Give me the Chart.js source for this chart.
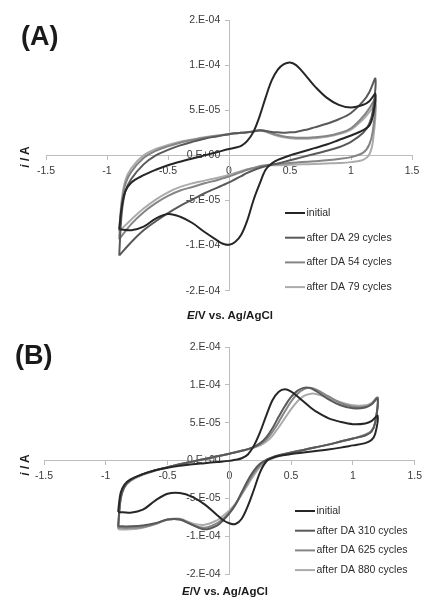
<!DOCTYPE html>
<html>
<head>
<meta charset="utf-8">
<script src="https://cdn.jsdelivr.net/npm/chart.js@4.4.1/dist/chart.umd.min.js"></script>
<style>
  html, body { margin: 0; padding: 0; background: #fff; }
  body { width: 427px; height: 600px; position: relative; overflow: hidden; font-family: "Liberation Sans", Arial, sans-serif; color: #1a1a1a; }
  canvas { position: absolute; left: 0; }
  .tag { position: absolute; font-weight: bold; font-size: 27px; line-height: 30px; }
  .xtitle { position: absolute; width: 160px; text-align: center; font-weight: bold; font-size: 11.5px; line-height: 14px; }
  .ytitle { position: absolute; width: 40px; text-align: center; font-weight: bold; font-size: 12px; line-height: 14px; transform: rotate(-90deg); }
</style>
</head>
<body>
<canvas id="cv-a" width="427" height="300" style="top:0"></canvas>
<canvas id="cv-b" width="427" height="300" style="top:300px"></canvas>

<div class="tag" style="left:21px;top:21px">(A)</div>
<div class="ytitle" style="left:5px;top:150px"><i>i</i> / A</div>
<div class="xtitle" style="left:150px;top:308px"><i>E</i>/V vs. Ag/AgCl</div>

<div class="tag" style="left:15px;top:340px">(B)</div>
<div class="ytitle" style="left:5px;top:458px"><i>i</i> / A</div>
<div class="xtitle" style="left:145px;top:584px"><i>E</i>/V vs. Ag/AgCl</div>

<script>
// potential sweep: forward -0.9 -> 1.2 V, then back to -0.9 V
const potential = [
  -0.9, -0.88, -0.85, -0.8, -0.7, -0.6, -0.5, -0.4, -0.3, -0.2, -0.1, 0,
  0.05, 0.1, 0.15, 0.2, 0.25, 0.3, 0.35, 0.4, 0.45, 0.5, 0.55, 0.6, 0.65, 0.7,
  0.8, 0.9, 1.0, 1.1, 1.15, 1.2,
  1.18, 1.15, 1.1, 1.0, 0.9, 0.8, 0.7, 0.6, 0.5, 0.4,
  0.35, 0.3, 0.25, 0.2, 0.15, 0.1, 0.05, 0, -0.05, -0.1,
  -0.2, -0.3, -0.4, -0.5, -0.6, -0.7, -0.8, -0.9,
];

// currents in units of 1E-05 A
const aInitial = [
  -8.2, -5.8, -4.0, -3.0, -2.2, -1.6, -1.1, -0.7, -0.35, 0.0, 0.35, 0.7,
  0.85, 1.05, 1.6, 2.6, 4.3, 6.4, 8.3, 9.5, 10.1, 10.3, 10.0, 9.3, 8.5, 7.7,
  6.4, 5.6, 5.3, 5.6, 6.0, 6.8,
  4.4, 3.3, 2.8, 2.2, 1.7, 1.2, 0.8, 0.4, 0.0, -0.5,
  -0.9, -1.6, -3.2, -5.0, -7.2, -8.8, -9.6, -9.9, -9.8, -9.4,
  -8.5, -7.5, -6.8, -6.5, -7.0, -7.9, -8.3, -8.2,
];
const aDA29 = [
  -11.1, -6.5, -4.0, -2.6, -1.0, 0.0, 0.6, 1.1, 1.5, 1.85, 2.1, 2.35,
  2.45, 2.5, 2.55, 2.65, 2.75, 2.7, 2.6, 2.55, 2.5, 2.55, 2.6, 2.75, 2.9, 3.1,
  3.5, 4.0, 4.7, 6.0, 7.0, 8.5,
  5.0, 3.5, 2.5, 1.5, 0.9, 0.5, 0.15, -0.2, -0.55, -0.9,
  -1.05, -1.2, -1.4, -1.65, -1.95, -2.3, -2.65, -3.0, -3.3, -3.6,
  -4.2, -4.9, -5.6, -6.4, -7.3, -8.3, -9.6, -11.1,
];
const aDA54 = [
  -9.3, -5.5, -3.2, -1.8, -0.3, 0.5, 1.0, 1.4, 1.7, 1.95, 2.15, 2.35,
  2.45, 2.5, 2.55, 2.65, 2.8, 2.7, 2.45, 2.25, 2.1, 2.0, 1.95, 1.95, 1.95, 2.0,
  2.15, 2.45, 3.0, 4.3, 5.2, 6.2,
  2.8, 1.2, 0.3, -0.2, -0.4, -0.55, -0.65, -0.75, -0.85, -0.95,
  -1.0, -1.1, -1.2, -1.4, -1.6, -1.85, -2.1, -2.35, -2.55, -2.75,
  -3.1, -3.5, -3.9, -4.5, -5.3, -6.3, -7.6, -9.3,
];
const aDA79 = [
  -8.4, -5.0, -2.8, -1.4, 0.0, 0.7, 1.15, 1.5, 1.75, 2.0, 2.2, 2.35,
  2.45, 2.5, 2.55, 2.65, 2.75, 2.6, 2.35, 2.15, 2.0, 1.9, 1.85, 1.85, 1.85, 1.9,
  2.05, 2.35, 2.85, 4.0, 4.8, 5.6,
  1.6, 0.1, -0.5, -0.75, -0.85, -0.9, -0.95, -1.0, -1.05, -1.1,
  -1.1, -1.15, -1.25, -1.4, -1.55, -1.75, -1.95, -2.15, -2.35, -2.5,
  -2.8, -3.1, -3.5, -4.1, -4.9, -5.9, -7.1, -8.4,
];

const bInitial = [
  -6.8, -4.3, -3.2, -2.5, -1.8, -1.3, -0.95, -0.7, -0.5, -0.35, -0.2, -0.05,
  0.1, 0.3, 0.8, 2.0, 3.8, 6.0, 8.0, 9.1, 9.4, 9.1, 8.5, 7.8, 7.1, 6.5,
  5.6, 5.1, 4.8, 4.9, 5.2, 5.9,
  3.5, 2.7, 2.3, 2.0, 1.7, 1.45, 1.25, 1.05, 0.85, 0.6,
  0.35, -0.1, -1.5, -3.8, -6.0, -7.7, -8.4, -8.3, -7.9, -7.2,
  -5.8, -4.8, -4.3, -4.4, -5.3, -6.5, -6.9, -6.8,
];
const bDA310 = [
  -8.7, -5.0, -3.5, -2.6, -1.8, -1.3, -0.9, -0.5, -0.15, 0.2, 0.55, 0.9,
  1.1, 1.3, 1.5, 1.8, 2.3, 3.1, 4.3, 5.8, 7.2, 8.4, 9.2, 9.6, 9.6, 9.2,
  8.1, 7.3, 6.9, 7.0, 7.4, 8.2,
  5.0, 3.8, 3.3, 2.9, 2.5, 2.1, 1.75, 1.4, 1.05, 0.7,
  0.45, 0.1, -0.4, -1.3, -2.6, -4.2, -5.8, -7.0, -7.9, -8.6,
  -9.1, -8.5, -7.8, -7.8, -8.3, -8.6, -8.7, -8.7,
];
const bDA625 = [
  -8.9, -5.0, -3.5, -2.6, -1.8, -1.3, -0.9, -0.5, -0.15, 0.2, 0.55, 0.9,
  1.1, 1.3, 1.5, 1.75, 2.15, 2.8, 3.8, 5.1, 6.5, 7.8, 8.8, 9.4, 9.6, 9.4,
  8.5, 7.6, 7.1, 7.1, 7.5, 8.3,
  5.0, 3.9, 3.4, 2.9, 2.5, 2.1, 1.75, 1.4, 1.05, 0.65,
  0.4, 0.0, -0.6, -1.6, -2.9, -4.4, -5.8, -6.9, -7.7, -8.3,
  -8.9, -8.5, -7.8, -7.8, -8.4, -8.8, -8.9, -8.9,
];
const bDA880 = [
  -9.1, -5.2, -3.6, -2.7, -1.9, -1.35, -0.9, -0.5, -0.15, 0.2, 0.55, 0.9,
  1.1, 1.3, 1.45, 1.7, 2.0, 2.5, 3.3, 4.4, 5.6, 6.8, 7.8, 8.5, 8.8, 8.8,
  8.3, 7.7, 7.3, 7.3, 7.6, 8.3,
  5.0, 3.9, 3.4, 2.9, 2.5, 2.1, 1.75, 1.4, 1.05, 0.6,
  0.3, -0.1, -0.8, -1.9, -3.2, -4.5, -5.7, -6.6, -7.3, -7.9,
  -8.5, -8.3, -7.7, -7.8, -8.4, -8.9, -9.1, -9.1,
];

const labelsA = ["initial", "after DA 29 cycles", "after DA 54 cycles", "after DA 79 cycles"];
const labelsB = ["initial", "after DA 310 cycles", "after DA 625 cycles", "after DA 880 cycles"];
const xTickLabels = ["-1.5", "-1", "-0.5", "0", "0.5", "1", "1.5"];
// Excel "0.E+00" style labels for -15 ... 15 (x 1E-05 A)
const yTickLabels = ["-2.E-04", "-1.E-04", "-5.E-05", "0.E+00", "5.E-05", "1.E-04", "2.E-04"];

const seriesColors = ["#262626", "#595959", "#858585", "#ababab"];
const axisGray = "#bdbdbd";
const tickFont = { family: "'Liberation Sans', Arial, sans-serif", size: 10.5 };

// legend drawn as short line samples inside the plot, like the Excel original
const lineLegend = {
  id: "lineLegend",
  afterDraw(chart, args, opts) {
    const ctx = chart.ctx;
    ctx.save();
    ctx.font = "10.5px 'Liberation Sans', Arial, sans-serif";
    ctx.textBaseline = "middle";
    chart.data.datasets.forEach((ds, i) => {
      const y = opts.top + i * opts.gap;
      ctx.strokeStyle = ds.borderColor;
      ctx.lineWidth = 2;
      ctx.beginPath();
      ctx.moveTo(opts.left, y);
      ctx.lineTo(opts.left + opts.width, y);
      ctx.stroke();
      ctx.fillStyle = "#2b2b2b";
      ctx.fillText(ds.label, opts.left + opts.width + 1.5, y);
    });
    ctx.restore();
  },
};

function loop(values) {
  return values.map((v, i) => ({ x: potential[i], y: v }));
}

function makeChart(id, labels, series, padding, legendPos) {
  new Chart(document.getElementById(id), {
    type: "scatter",
    data: {
      datasets: series.map((vals, i) => ({
        label: labels[i],
        data: loop(vals),
        showLine: true,
        borderColor: seriesColors[i],
        borderWidth: 2,
        pointRadius: 0,
        tension: 0.35,
        fill: false,
      })),
    },
    options: {
      responsive: false,
      animation: false,
      events: [],
      layout: { padding: padding },
      plugins: {
        legend: { display: false },
        tooltip: { enabled: false },
        lineLegend: legendPos,
      },
      scales: {
        x: {
          type: "linear",
          min: -1.5,
          max: 1.5,
          position: { y: 0 },
          ticks: {
            stepSize: 0.5,
            color: "#3a3a3a",
            font: tickFont,
            padding: 5,
            callback: (value, index) => xTickLabels[index],
          },
          grid: { drawOnChartArea: false, color: axisGray, tickLength: 4 },
          border: { color: axisGray, width: 1 },
        },
        y: {
          type: "linear",
          min: -15,
          max: 15,
          position: { x: 0 },
          ticks: {
            stepSize: 5,
            color: "#3a3a3a",
            font: tickFont,
            // trailing spaces keep the labels clear of the centred axis line
            callback: (value, index) => yTickLabels[index] + "   ",
          },
          grid: { drawOnChartArea: false, color: axisGray, tickLength: 4 },
          border: { color: axisGray, width: 1 },
        },
      },
    },
    plugins: [lineLegend],
  });
}

makeChart("cv-a", labelsA, [aInitial, aDA29, aDA54, aDA79],
  { left: 46, right: 15, top: 20, bottom: 8 },
  { left: 285, top: 213, gap: 24.7, width: 20 });

makeChart("cv-b", labelsB, [bInitial, bDA310, bDA625, bDA880],
  { left: 44, right: 7, top: 47, bottom: 26 },
  { left: 295, top: 211, gap: 19.7, width: 20 });
</script>
</body>
</html>
